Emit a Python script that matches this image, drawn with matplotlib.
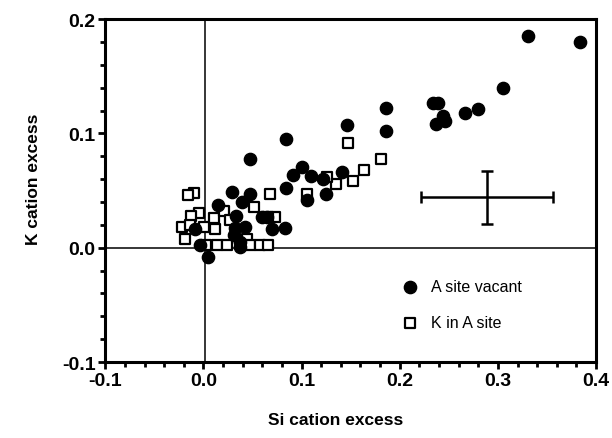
import numpy as np
import matplotlib.pyplot as plt
from matplotlib.ticker import MultipleLocator

plt.rcParams['font.family'] = ['Liberation Sans', 'DejaVu Sans']

# A site vacant (filled circles)
vac_x = [0.384, 0.331, 0.305, 0.280, 0.266, 0.234, 0.239, 0.244, 0.246, 0.237,
         0.186, 0.186, 0.146, 0.084, 0.047, 0.100, 0.091, 0.110, 0.122, 0.141,
         0.084, 0.125, 0.105, 0.029, 0.047, 0.039, 0.015, 0.033, 0.060, 0.065,
         0.070, 0.083, 0.042, 0.031, 0.032, 0.037, 0.037, -0.009, -0.004, 0.005]
vac_y = [0.180, 0.185, 0.140, 0.121, 0.118, 0.127, 0.127, 0.115, 0.111, 0.108,
         0.122, 0.102, 0.107, 0.095, 0.078, 0.071, 0.064, 0.063, 0.060, 0.066,
         0.052, 0.047, 0.042, 0.049, 0.047, 0.040, 0.037, 0.028, 0.027, 0.027,
         0.016, 0.017, 0.018, 0.011, 0.017, 0.001, 0.005, 0.016, 0.002, -0.008]

# K in A site (open squares)
kin_x = [0.1475, 0.181, 0.164, 0.1525, 0.135, 0.126, 0.105, 0.068, 0.052,
         -0.010, -0.016, -0.005, -0.013, 0.011, 0.021, -0.022, -0.014, 0.001,
         0.012, 0.027, -0.019, 0.044, 0.073, 0.066,
         0.003, 0.0135, 0.0236, 0.047, 0.0575, 0.066]
kin_y = [0.092, 0.078, 0.068, 0.058, 0.056, 0.062, 0.047, 0.047, 0.036,
         0.048, 0.046, 0.030, 0.028, 0.026, 0.032, 0.018, 0.020, 0.018,
         0.016, 0.024, 0.008, 0.008, 0.027, 0.027,
         0.002, 0.002, 0.002, 0.002, 0.002, 0.002]

# typical uncertainty
err_x, err_y = 0.289, 0.044
err_dx, err_dy = 0.0675, 0.0235

fig = plt.figure(figsize=(6.12, 4.39), dpi=100)
ax = fig.add_axes([0.172, 0.173, 0.802, 0.781])

ax.axhline(0, color='black', lw=1.1, zorder=1)
ax.axvline(0.0015, color='black', lw=1.1, zorder=1)

ax.scatter(kin_x, kin_y, marker='s', s=50, facecolors='white', edgecolors='black',
           linewidths=1.6, zorder=3, label='K in A site')
ax.scatter(vac_x, vac_y, marker='o', s=78, color='black', zorder=4, label='A site vacant')

ax.errorbar(err_x, err_y, xerr=err_dx, yerr=err_dy, fmt='none', ecolor='black',
            elinewidth=1.8, capsize=4.5, capthick=1.8, zorder=2)

ax.set_xlim(-0.1, 0.4)
ax.set_ylim(-0.1, 0.2)
ax.xaxis.set_major_locator(MultipleLocator(0.1))
ax.xaxis.set_minor_locator(MultipleLocator(0.02))
ax.yaxis.set_major_locator(MultipleLocator(0.1))
ax.yaxis.set_minor_locator(MultipleLocator(0.02))
ax.xaxis.set_major_formatter(plt.FormatStrFormatter('%.1f'))
ax.yaxis.set_major_formatter(plt.FormatStrFormatter('%.1f'))
ax.tick_params(which='major', direction='out', length=5, width=2, labelsize=14, pad=2)
ax.tick_params(which='minor', direction='out', length=3.5, width=2)
for lab in ax.get_xticklabels() + ax.get_yticklabels():
    lab.set_fontweight('bold')
for sp in ax.spines.values():
    sp.set_linewidth(2.2)

ax.set_xlabel('Si cation excess', fontsize=12.5, fontweight='bold')
ax.set_ylabel('K cation excess', fontsize=12.5, fontweight='bold')
ax.xaxis.set_label_coords(0.47, -0.145)
ax.yaxis.set_label_coords(-0.13, 0.535)

h, l = ax.get_legend_handles_labels()
ax.legend(h[::-1], l[::-1], loc='upper left', bbox_to_anchor=(0.575, 0.285), frameon=False,
          fontsize=11.5, handletextpad=0.8, labelspacing=1.35, handlelength=1.0,
          scatterpoints=1)

fig.savefig('out.png', dpi=100)
